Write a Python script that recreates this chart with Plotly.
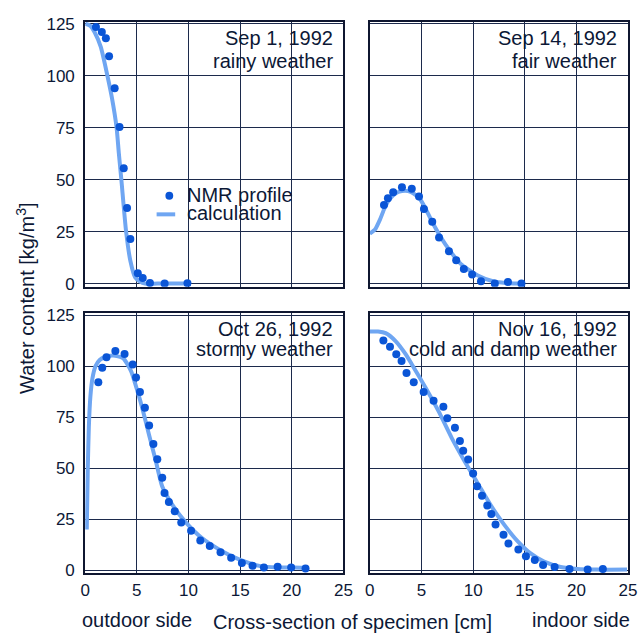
import plotly.graph_objects as go

# ---------------- data ----------------
# Sep 1, 1992 (rainy weather)
sep1_nmr_x = [1.04, 1.61, 2.0, 2.31, 2.85, 3.32, 3.73, 4.05, 4.37, 5.09, 5.57, 6.27, 7.69, 9.9]
sep1_nmr_y = [123.4, 121, 118, 109.4, 94, 75.3, 55.5, 36.4, 21.4, 5, 2.7, 0.3, 0, 0.2]
sep1_calc_x = [0, 0.5, 0.9, 1.5, 2.15, 2.6, 3.04, 3.25, 3.5, 3.96, 4.37, 4.84, 5.3, 5.8, 7.0, 9.9]
sep1_calc_y = [125, 124, 121, 114, 100, 89, 75, 63, 50, 25, 11, 3, 1, 0, 0, 0]

# Sep 14, 1992 (fair weather)
sep14_nmr_x = [1.37, 1.75, 2.26, 3.11, 4.06, 4.76, 5.24, 6.04, 6.7, 7.66, 8.36, 9.1, 9.9, 10.76, 12.1, 13.37, 14.68]
sep14_nmr_y = [37.8, 41, 44, 46.4, 45.6, 41.9, 35.9, 29.7, 22.2, 15.6, 11.25, 7, 4.4, 1.1, 0, 0.8, 0]
sep14_calc_x = [0, 0.5, 1.0, 1.4, 1.9, 2.5, 3.1, 3.7, 4.2, 4.8, 5.3, 6.1, 7.3, 8.8, 10.4, 12, 13.5, 14.7]
sep14_calc_y = [24, 26, 31, 36, 40.5, 43.5, 44.5, 44.5, 43.5, 41, 37, 29, 19, 9.5, 4, 1, 0.2, 0]

# Oct 26, 1992 (stormy weather)
oct26_nmr_x = [1.27, 1.65, 2.06, 2.92, 3.81, 4.6, 4.92, 5.3, 5.78, 6.19, 6.6, 6.98, 7.46, 7.68, 8.1,
               8.67, 9.3, 10.25, 11.14, 12.06, 13.1, 14.13, 15.17, 16.2, 17.3, 18.63, 19.94, 21.33]
oct26_nmr_y = [92.1, 99.2, 104.4, 107.4, 106, 100.8, 94.5, 87.4, 79.6, 70.9, 61.9, 54.4, 45.3, 37.9, 33.5,
               28.9, 23.4, 19.3, 14.6, 11.9, 8.8, 6.1, 3.6, 2.2, 1.4, 1.7, 1.4, 0.9]
oct26_calc_x = [0.15, 0.25, 0.35, 0.5, 0.7, 1.0, 1.4, 1.9, 2.7, 3.65, 4.44, 5.08, 5.56, 6.19, 6.83, 7.46,
                8.4, 9.7, 11.27, 13.17, 15.08, 17.0, 18.6, 20.2, 21.3]
oct26_calc_y = [20, 50, 70, 85, 94, 100, 103, 104.5, 105.2, 104, 97.6, 87.4, 78.8, 66.2, 53.6, 41,
                32.4, 23.7, 15.9, 9.6, 4.9, 2, 1.4, 1.4, 1.2]

# Nov 16, 1992 (cold and damp weather)
nov16_nmr_x = [1.31, 1.95, 2.56, 3.07, 3.55, 4.25, 5.21, 6.17, 7.12, 7.5, 8.24, 8.72, 9.04, 9.52, 10.0,
               10.38, 10.86, 11.37, 11.76, 12.17, 12.94, 13.42, 14.38, 15.11, 15.97, 16.77, 17.89, 19.33,
               21.09, 22.56]
nov16_nmr_y = [112.6, 109.5, 105.8, 102.6, 96.7, 92.1, 87.4, 83, 80.1, 74.5, 69.8, 63.3, 58.6, 54.3, 47.4,
               41.2, 36.5, 31.7, 27.5, 22.4, 17.4, 13.1, 10.1, 6.8, 5, 2.6, 1.6, 0.6, 0.3, 0.6]
nov16_calc_x = [0, 0.8, 1.53, 2.49, 3.45, 4.1, 5.37, 6.65, 7.92, 9.2, 10.48, 11.76, 13.04, 14.3, 15.6,
                16.87, 18.47, 20.1, 22.0, 24.9]
nov16_calc_y = [117, 117, 116.2, 112.3, 106, 100.6, 89.7, 78, 64.9, 53.2, 42.3, 31.4, 22.1, 14.3, 8.1,
                4.2, 1.6, 0.6, 0.3, 0.3]

x_ticks = [0, 5, 10, 15, 20, 25]
y_ticks = [0, 25, 50, 75, 100, 125]

panel_dates = ["Sep 1, 1992", "Sep 14, 1992", "Oct 26, 1992", "Nov 16, 1992"]
panel_weather = ["rainy weather", "fair weather", "stormy weather", "cold and damp weather"]
legend_names = ["NMR profile", "calculation"]

# ---------------- styling ----------------
W, H = 640, 638
FONT = "Liberation Sans, Arial, sans-serif"
TXT = "#0c1836"
DOT = "#0a55d6"
LINE = "#6fa6f2"
GRID = "#1c2a4c"
FRAME = "#0f1730"

def px_x(p):
    return p / W

def px_y(p):
    return 1 - p / H

panels = [
    (sep1_nmr_x, sep1_nmr_y, sep1_calc_x, sep1_calc_y),
    (sep14_nmr_x, sep14_nmr_y, sep14_calc_x, sep14_calc_y),
    (oct26_nmr_x, oct26_nmr_y, oct26_calc_x, oct26_calc_y),
    (nov16_nmr_x, nov16_nmr_y, nov16_calc_x, nov16_calc_y),
]

# pixel boxes (left, right, top, bottom)
boxes = [(82, 346, 15, 286), (373, 637, 15, 286), (82, 346, 313, 579), (373, 637, 313, 579)]
# white label backgrounds (left px, bottom px) per panel
label_bg = [(213, 69), (503, 69), (198, 362), (415, 362)]
# label line offsets from panel top (line 1, line 2)
label_off = [(17, 40), (17, 40), (16, 37), (16, 37)]

fig = go.Figure()
layout = dict(
    width=W, height=H, margin=dict(l=0, r=0, t=0, b=0),
    paper_bgcolor="white", plot_bgcolor="white",
    font=dict(family=FONT, color=TXT, size=17),
    showlegend=False,
)

for i, (nx, ny, cx, cy) in enumerate(panels):
    k = "" if i == 0 else str(i + 1)
    fig.add_trace(go.Scatter(x=cx, y=cy, mode="lines", name=legend_names[1],
                             line=dict(color=LINE, width=4, shape="spline", smoothing=0.6),
                             xaxis="x" + k, yaxis="y" + k))
    fig.add_trace(go.Scatter(x=nx, y=ny, mode="markers", name=legend_names[0],
                             marker=dict(color=DOT, size=8),
                             xaxis="x" + k, yaxis="y" + k))
    l, r, t, b = boxes[i]
    bottom_row = i >= 2
    left_col = i % 2 == 0
    layout["xaxis" + k] = dict(
        domain=[px_x(l), px_x(r)], anchor="y" + k, range=[0, 25],
        tickvals=x_ticks, showticklabels=bottom_row, ticks="",
        showgrid=True, gridcolor=GRID, gridwidth=1, zeroline=False,
        showline=True, linecolor=FRAME, linewidth=2, mirror=True,
        tickfont=dict(size=17, color=TXT),
    )
    layout["yaxis" + k] = dict(
        domain=[px_y(b), px_y(t)], anchor="x" + k, range=[-1.5, 126],
        tickvals=y_ticks, showticklabels=left_col, ticks="",
        showgrid=True, gridcolor=GRID, gridwidth=1, zeroline=False,
        showline=True, linecolor=FRAME, linewidth=2, mirror=True,
        tickfont=dict(size=17, color=TXT), ticklabelstandoff=5,
    )

shapes = []
annotations = []
for i in range(4):
    l, r, t, b = boxes[i]
    bl, bb = label_bg[i]
    o1, o2 = label_off[i]
    shapes.append(dict(type="rect", xref="paper", yref="paper", layer="between",
                       x0=px_x(bl), x1=px_x(r), y0=px_y(bb), y1=px_y(t),
                       fillcolor="white", line=dict(width=0)))
    annotations.append(dict(
        x=px_x(r - 9), y=px_y(t + o1), xref="paper", yref="paper",
        xanchor="right", yanchor="middle", text=panel_dates[i], showarrow=False,
        font=dict(size=20, color=TXT, family=FONT)))
    annotations.append(dict(
        x=px_x(r - 9), y=px_y(t + o2), xref="paper", yref="paper",
        xanchor="right", yanchor="middle", text=panel_weather[i], showarrow=False,
        font=dict(size=20, color=TXT, family=FONT)))

# legend (drawn in panel 1)
shapes.append(dict(type="rect", xref="paper", yref="paper", layer="between",
                   x0=px_x(150), x1=px_x(292), y0=px_y(229), y1=px_y(178),
                   fillcolor="white", line=dict(width=0)))
shapes.append(dict(type="circle", xref="paper", yref="paper", layer="above",
                   x0=px_x(164), x1=px_x(172), y0=px_y(197), y1=px_y(189),
                   fillcolor=DOT, line=dict(width=0)))
shapes.append(dict(type="line", xref="paper", yref="paper", layer="above",
                   x0=px_x(155), x1=px_x(174), y0=px_y(212), y1=px_y(212),
                   line=dict(color=LINE, width=4)))
annotations.append(dict(x=px_x(184), y=px_y(192), xref="paper", yref="paper",
                        xanchor="left", yanchor="middle", text=legend_names[0], showarrow=False,
                        font=dict(size=20, color=TXT, family=FONT)))
annotations.append(dict(x=px_x(184), y=px_y(211), xref="paper", yref="paper",
                        xanchor="left", yanchor="middle", text=legend_names[1], showarrow=False,
                        font=dict(size=20, color=TXT, family=FONT)))

annotations += [
    dict(x=px_x(21), y=px_y(298), xref="paper", yref="paper", text="Water content [kg/m<sup>3</sup>]",
         xanchor="center", yanchor="middle",
         textangle=-90, showarrow=False, font=dict(size=20, color=TXT, family=FONT)),
    dict(x=px_x(135), y=px_y(627), xref="paper", yref="paper", text="outdoor side",
         xanchor="center", yanchor="middle",
         showarrow=False, font=dict(size=20, color=TXT, family=FONT)),
    dict(x=px_x(355), y=px_y(629), xref="paper", yref="paper", text="Cross-section of specimen [cm]",
         xanchor="center", yanchor="middle",
         showarrow=False, font=dict(size=20, color=TXT, family=FONT)),
    dict(x=px_x(589), y=px_y(627), xref="paper", yref="paper", text="indoor side",
         xanchor="center", yanchor="middle",
         showarrow=False, font=dict(size=20, color=TXT, family=FONT)),
]
layout["annotations"] = annotations
layout["shapes"] = shapes
fig.update_layout(**layout)
fig.write_html("out.html")
